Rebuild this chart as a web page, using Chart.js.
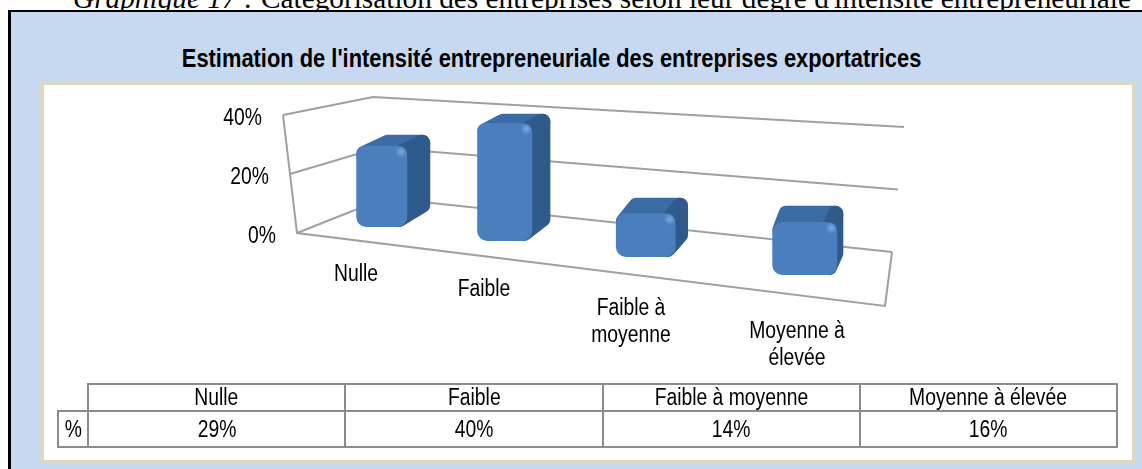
<!DOCTYPE html>
<html lang="fr">
<head>
<meta charset="utf-8">
<title>Graphique 17</title>
<script src="https://cdn.jsdelivr.net/npm/chart.js@4/dist/chart.umd.min.js"></script>
<style>
    html, body { margin: 0; padding: 0; background: #fff; }
    #page { position: relative; width: 1142px; height: 469px; overflow: hidden; font-family: "Liberation Sans", Arial, sans-serif; color: #000; }
    #legende { position: absolute; left: 73px; top: -16px; font: 29.3px/28px "Liberation Serif", serif; white-space: nowrap; }
    #panneau { position: absolute; left: 8px; top: 10px; width: 1134px; height: 459px; box-sizing: border-box; background: #c6d9f1; border-left: 3px solid #000; border-top: 2px solid #000; }
    #titre { position: absolute; left: 1px; width: 1102px; top: 43px; text-align: center; font-weight: bold; font-size: 25px; line-height: 30px; white-space: nowrap; }
    #titre span { display: inline-block; transform: scaleX(0.875); white-space: nowrap; }
    td span { display: inline-block; transform: scaleX(0.84); white-space: nowrap; }
    #cadre { position: absolute; left: 40px; top: 81px; width: 1096px; height: 383px; box-sizing: border-box; background: #fff; border: 4px solid #ddd8c3; }
    #graphique { position: absolute; left: 0; top: 0; }
    #tableau { position: absolute; left: 57px; top: 383px; width: 1061px; border-collapse: collapse; table-layout: fixed; font-size: 23px; }
    #tableau td { border: 2px solid #8c8c8c; text-align: center; padding: 0; overflow: hidden; }
    #tableau tr:first-child td { height: 25px; line-height: 25px; }
    #tableau tr:last-child td { height: 34px; line-height: 34px; }
    #tableau td.vide { border: none; border-right: 2px solid #8c8c8c; border-bottom: 2px solid #8c8c8c; }
</style>
</head>
<body>
<div id="page">
    <div id="legende"><i>Graphique 17 :</i> Catégorisation des entreprises selon leur degré d'intensité entrepreneuriale</div>
    <div id="panneau"></div>
    <div id="titre"><span>Estimation de l'intensité entrepreneuriale des entreprises exportatrices</span></div>
    <div id="cadre"></div>
    <canvas id="graphique" width="1142" height="469"></canvas>
    <table id="tableau">
        <colgroup><col style="width:30px"><col><col><col><col></colgroup>
        <tbody id="table-body"></tbody>
    </table>
</div>
<script>
// Données
const categories = ['Nulle', 'Faible', 'Faible à moyenne', 'Moyenne à élevée'];
const etiquettesAxe = [['Nulle'], ['Faible'], ['Faible à', 'moyenne'], ['Moyenne à', 'élevée']];
const valeurs = [29, 40, 14, 16];
const ticksY = [0, 20, 40];
const nomSerie = '%';

// Coins des parois de la vue 3D
const COULEUR_GRILLE = '#a0a0a0';
const ARRIERE_GAUCHE = { bas: [385, 198], haut: [373, 97] };
const ARRIERE_DROIT = { bas: [892, 252], haut: [904, 127] };
const AVANT_GAUCHE = { bas: [297, 233], haut: [283, 115] };
const AVANT_DROIT = [885, 306];
const ECHELLE_TEXTE = 0.84;
const POLICE = '23px "Liberation Sans", Arial, sans-serif';

function entre(coin, t) {
    return [coin.bas[0] + (coin.haut[0] - coin.bas[0]) * t, coin.bas[1] + (coin.haut[1] - coin.bas[1]) * t];
}

function ligne(ctx, points) {
    ctx.beginPath();
    points.forEach((p, i) => i ? ctx.lineTo(p[0], p[1]) : ctx.moveTo(p[0], p[1]));
    ctx.stroke();
}

function texte(ctx, str, x, y, align) {
    ctx.save();
    ctx.translate(x, y);
    ctx.scale(ECHELLE_TEXTE, 1);
    ctx.font = POLICE;
    ctx.fillStyle = '#000';
    ctx.textAlign = align;
    ctx.textBaseline = 'middle';
    ctx.fillText(str, 0, 0);
    ctx.restore();
}

function face(ctx, points, couleur) {
    ctx.save();
    ctx.fillStyle = couleur;
    ctx.strokeStyle = couleur;
    ctx.lineWidth = 16;
    ctx.lineJoin = 'round';
    ctx.beginPath();
    points.forEach((p, i) => i ? ctx.lineTo(p[0], p[1]) : ctx.moveTo(p[0], p[1]));
    ctx.closePath();
    ctx.fill();
    ctx.stroke();
    ctx.restore();
}

// Perspective : les barres sont replacées sur le sol incliné
const vue3d = {
    id: 'vue3d',
    afterDatasetsUpdate(chart) {
        const area = chart.chartArea;
        chart.getDatasetMeta(0).data.forEach(bar => {
            const u = (bar.x - area.left) / (area.right - area.left);
            const x = area.left + (u * (420 + 144 * u) / 564) * (area.right - area.left);
            const base = 227 + 0.1135 * (x - 382);
            const hauteur = (bar.base - bar.y) * (2.8 + (x - 382) * 0.0012) / 2.95;
            bar.x = x;
            bar.base = base;
            bar.y = base - hauteur;
            bar.width = 51 + (x - 382) * 0.033;
            bar.height = hauteur;
        });
    },
    beforeDatasetsDraw(chart) {
        const ctx = chart.ctx;
        const area = chart.chartArea;
        const y = chart.scales.y;
        ctx.save();
        ctx.strokeStyle = COULEUR_GRILLE;
        ctx.lineWidth = 2;
        // Grille, axe de gauche et sol
        y.ticks.forEach(tick => {
            const t = (area.bottom - y.getPixelForValue(tick.value)) / (area.bottom - area.top);
            const avant = entre(AVANT_GAUCHE, t);
            ligne(ctx, [avant, entre(ARRIERE_GAUCHE, t), entre(ARRIERE_DROIT, t)]);
            texte(ctx, tick.value + '%', avant[0] - 21, avant[1] + 4, 'right');
        });
        ligne(ctx, [AVANT_GAUCHE.haut, AVANT_GAUCHE.bas, AVANT_DROIT, ARRIERE_DROIT.bas]);
        ctx.restore();

        // Faces arrière des barres
        chart.getDatasetMeta(0).data.forEach(bar => {
            const r = 8;
            const g = bar.x - bar.width / 2;
            const d = bar.x + bar.width / 2;
            const dx = 23 - (bar.x - 382) * 0.04;
            const dyHaut = 11 + (bar.y - 147) * 0.07;
            face(ctx, [[g + r, bar.y + r], [g + dx + r, bar.y - dyHaut + r], [d + dx - r, bar.y - dyHaut + r], [d - r, bar.y + r]], '#3b6ca6');
            face(ctx, [[d - r, bar.y + r], [d + dx - r, bar.y - dyHaut + r], [d + dx - r, bar.base - 14 - r], [d - r, bar.base - r]], '#2f5a8c');
        });
    },
    afterDatasetsDraw(chart) {
        const ctx = chart.ctx;
        // Reflet en haut à droite de la face avant
        chart.getDatasetMeta(0).data.forEach(bar => {
            const d = bar.x + bar.width / 2;
            ctx.save();
            const reflet = ctx.createRadialGradient(d - 6, bar.y + 6, 0, d - 6, bar.y + 6, 6);
            reflet.addColorStop(0, 'rgba(125,175,235,0.9)');
            reflet.addColorStop(1, 'rgba(125,175,235,0)');
            ctx.fillStyle = reflet;
            ctx.fillRect(d - 12, bar.y, 12, 12);
            ctx.restore();
        });
        // Étiquettes des catégories, en escalier le long du sol
        etiquettesAxe.forEach((lignes, i) => {
            const x = 356 + 128 * i + 9.5 * i * (i - 1);
            const y = 275 + 15 * i + 2 * i * (i - 1);
            lignes.forEach((str, j) => texte(ctx, str, x, y + j * 27, 'center'));
        });
    }
};

new Chart(document.getElementById('graphique').getContext('2d'), {
    type: 'bar',
    data: {
        labels: categories,
        datasets: [{
            label: nomSerie,
            data: valeurs,
            backgroundColor: '#4a7ebd',
            borderRadius: 10,
            borderSkipped: false,
            clip: false
        }]
    },
    options: {
        responsive: false,
        animation: false,
        layout: { padding: { left: 327, right: 251, top: 115, bottom: 236 } },
        plugins: { legend: { display: false }, title: { display: false }, tooltip: { enabled: false } },
        scales: {
            x: { display: false },
            y: {
                display: false,
                min: ticksY[0],
                max: ticksY[ticksY.length - 1],
                afterBuildTicks: axis => { axis.ticks = ticksY.map(value => ({ value })); }
            }
        }
    },
    plugins: [vue3d]
});

// Table de données
const tableBody = document.getElementById('table-body');
tableBody.innerHTML = `
    <tr><td class="vide"></td>${categories.map(c => `<td><span>${c}</span></td>`).join('')}</tr>
    <tr><td><span>${nomSerie}</span></td>${valeurs.map(v => `<td><span>${v}%</span></td>`).join('')}</tr>
`;
</script>
</body>
</html>
